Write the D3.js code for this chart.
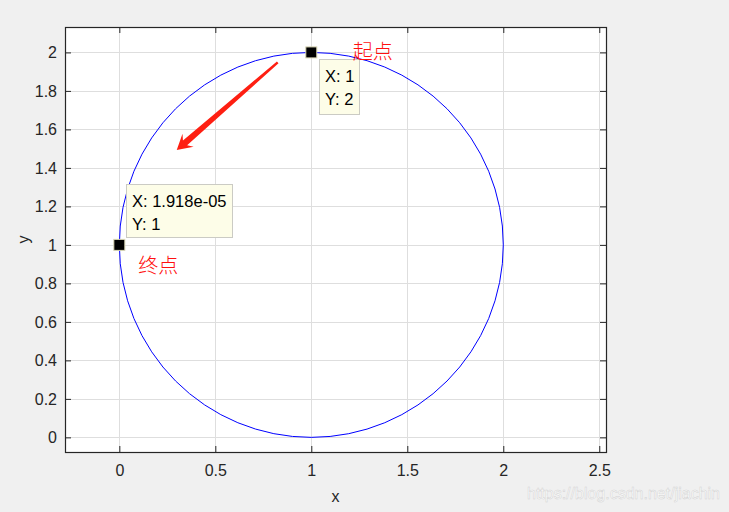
<!DOCTYPE html>
<html>
<head>
<meta charset="utf-8">
<script src="https://cdn.jsdelivr.net/npm/d3@7/dist/d3.min.js"></script>
<style>
  html, body { margin: 0; padding: 0; background: #f0f0f0; }
  svg { display: block; font-family: "Liberation Sans", Arial, sans-serif; }
</style>
</head>
<body>
<div id="chart"></div>
<script>
// axis limits and ticks (axis equal, as in the MATLAB figure)
const xLim = [-0.283, 2.535]
const yLim = [-0.076, 2.132]
const xTicks = [0, 0.5, 1, 1.5, 2, 2.5]
const yTicks = [0, 0.2, 0.4, 0.6, 0.8, 1, 1.2, 1.4, 1.6, 1.8, 2]

// the circle
const circleCenter = [1, 1]
const circleRadius = 1

// data tips
const tipX = [1, 1.918e-05]
const tipY = [2, 1]
const tipLines = [['X: 1', 'Y: 2'], ['X: 1.918e-05', 'Y: 1']]

// red annotations
const noteText = ['起点', '终点']
const noteX = [1.216, 0.099]
const noteY = [1.965, 0.853]
const arrowFrom = [0.825, 1.948]
const arrowTo = [0.299, 1.4925]

const width = 729
const height = 512
const margin = { left: 65, top: 27, right: 123, bottom: 60 }

const svg = d3.select('#chart').append('svg')
  .attr('width', width)
  .attr('height', height)

svg.append('rect')
  .attr('width', width)
  .attr('height', height)
  .attr('fill', '#f0f0f0')

const x = d3.scaleLinear().domain(xLim).range([margin.left, width - margin.right])
const y = d3.scaleLinear().domain(yLim).range([height - margin.bottom, margin.top])

const x0 = x.range()[0], x1 = x.range()[1]
const y0 = y.range()[0], y1 = y.range()[1]

svg.append('rect')
  .attr('x', x0).attr('y', y1)
  .attr('width', x1 - x0).attr('height', y0 - y1)
  .attr('fill', '#fff')

// grid
const grid = svg.append('g').attr('stroke', '#dedede').attr('stroke-width', 1)
grid.selectAll('.gx').data(xTicks).join('line')
  .attr('x1', d => Math.round(x(d)) + 0.5).attr('x2', d => Math.round(x(d)) + 0.5)
  .attr('y1', y1).attr('y2', y0)
grid.selectAll('.gy').data(yTicks).join('line')
  .attr('y1', d => Math.round(y(d)) + 0.5).attr('y2', d => Math.round(y(d)) + 0.5)
  .attr('x1', x0).attr('x2', x1)

// axes (ticks inside, box on)
const tickLen = 6
const fmt = d => String(d)
const axisStyle = g => {
  g.select('.domain').remove()
  g.selectAll('.tick line').attr('stroke', '#262626')
  g.selectAll('.tick text').attr('fill', '#262626').attr('font-size', '16px')
}

svg.append('g')
  .attr('transform', `translate(0,${y0})`)
  .call(d3.axisBottom(x).tickValues(xTicks).tickFormat(fmt).tickSizeInner(-tickLen).tickSizeOuter(0).tickPadding(13))
  .call(axisStyle)
svg.append('g')
  .attr('transform', `translate(0,${y1})`)
  .call(d3.axisTop(x).tickValues(xTicks).tickFormat('').tickSizeInner(-tickLen).tickSizeOuter(0))
  .call(axisStyle)
svg.append('g')
  .attr('transform', `translate(${x0},0)`)
  .call(d3.axisLeft(y).tickValues(yTicks).tickFormat(fmt).tickSizeInner(-tickLen).tickSizeOuter(0).tickPadding(8))
  .call(axisStyle)
svg.append('g')
  .attr('transform', `translate(${x1},0)`)
  .call(d3.axisRight(y).tickValues(yTicks).tickFormat('').tickSizeInner(-tickLen).tickSizeOuter(0))
  .call(axisStyle)

svg.append('rect')
  .attr('x', x0 + 0.5).attr('y', y1 + 0.5)
  .attr('width', x1 - x0).attr('height', y0 - y1)
  .attr('fill', 'none').attr('stroke', '#262626').attr('stroke-width', 1.2)

// axis labels
svg.append('text')
  .attr('x', (x0 + x1) / 2).attr('y', 502)
  .attr('text-anchor', 'middle').attr('font-size', '16px').attr('fill', '#262626')
  .text('x')
svg.append('text')
  .attr('transform', `translate(29,${(y0 + y1) / 2}) rotate(-90)`)
  .attr('text-anchor', 'middle').attr('font-size', '16px').attr('fill', '#262626')
  .text('y')

// circle
svg.append('ellipse')
  .attr('cx', x(circleCenter[0])).attr('cy', y(circleCenter[1]))
  .attr('rx', x(circleCenter[0] + circleRadius) - x(circleCenter[0]))
  .attr('ry', y(circleCenter[1]) - y(circleCenter[1] + circleRadius))
  .attr('fill', 'none').attr('stroke', '#0000ff').attr('stroke-width', 1)

// arrow (tapered, like a screenshot-tool arrow)
{
  const ax = x(arrowFrom[0]), ay = y(arrowFrom[1])
  const bx = x(arrowTo[0]), by = y(arrowTo[1])
  const len = Math.hypot(bx - ax, by - ay)
  const ux = (bx - ax) / len, uy = (by - ay) / len
  const nx = -uy, ny = ux
  const pt = (a, b) => [bx - a * ux + b * nx, by - a * uy + b * ny]
  const pts = [
    pt(0, 0), pt(15, 8.5), pt(11, 3.2), pt(len, 1.2),
    pt(len, -1.2), pt(11, -3.2), pt(15, -8.5)
  ]
  svg.append('path')
    .attr('d', d3.line()(pts) + 'Z')
    .attr('fill', '#fe1f12')
}

// data tips
const tipBox = [
  { dx: 8, dy: 7, w: 40, h: 55 },
  { dx: 7, dy: -61, w: 106, h: 53 }
]
tipX.forEach((tx, i) => {
  const px = x(tx), py = y(tipY[i])
  const b = tipBox[i]
  const g = svg.append('g')
  g.append('rect')
    .attr('x', Math.round(px + b.dx) + 0.5).attr('y', Math.round(py + b.dy) + 0.5)
    .attr('width', b.w).attr('height', b.h)
    .attr('fill', '#fdfde8').attr('stroke', '#cbcbc4')
  g.selectAll('text').data(tipLines[i]).join('text')
    .attr('x', Math.round(px + b.dx) + 6)
    .attr('y', (d, j) => Math.round(py + b.dy) + 23 + j * 22.5)
    .attr('font-size', '16.5px').attr('fill', '#000')
    .text(d => d)
  g.append('rect')
    .attr('x', px - 5.5).attr('y', py - 5.5)
    .attr('width', 11).attr('height', 11)
    .attr('fill', '#000').attr('stroke', '#dcd9b8').attr('stroke-width', 1)
})

// red notes
svg.selectAll('.note').data(noteText).join('text')
  .attr('x', (d, i) => x(noteX[i]))
  .attr('y', (d, i) => y(noteY[i]))
  .attr('font-family', '"Noto Sans CJK SC", sans-serif')
  .attr('font-weight', 300)
  .attr('font-size', '20px')
  .attr('fill', '#ff1010')
  .text(d => d)

// watermark
svg.append('text')
  .attr('x', 720).attr('y', 499)
  .attr('text-anchor', 'end').attr('font-size', '16px')
  .attr('fill', '#ffffff').attr('stroke', '#d2d2d2').attr('stroke-width', 0.5)
  .text('https://blog.csdn.net/jiachin')
</script>
</body>
</html>
